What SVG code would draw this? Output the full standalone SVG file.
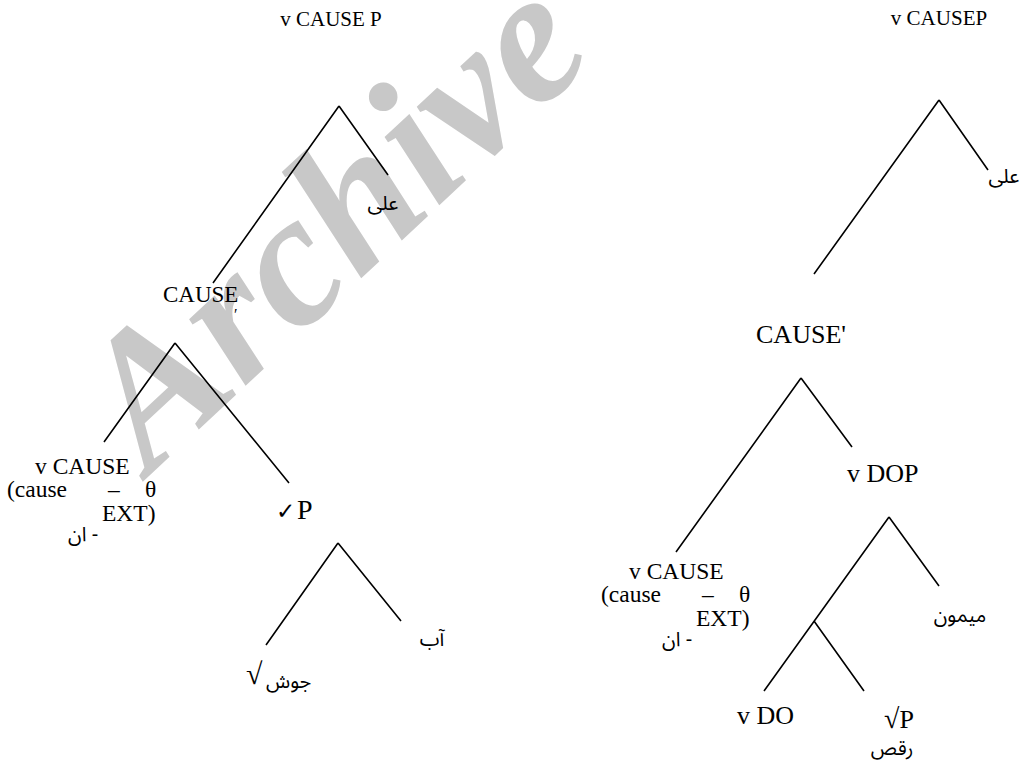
<svg xmlns="http://www.w3.org/2000/svg" width="1024" height="761" viewBox="0 0 1024 761">
<rect width="1024" height="761" fill="#fff"/>
<text fill="#c8c8c8" font-family="Liberation Serif" font-style="italic" font-weight="bold" font-size="190" transform="translate(150,475) rotate(-43)">Archive</text>
<g id="connectors" stroke="#000" stroke-width="1.6" fill="none">
<path d="M339,106 L388,175 M339,106 L213,283"/>
<path d="M175,343 L104,442 M175,343 L289,483"/>
<path d="M338,543 L266,645 M338,543 L401,621"/>
<path d="M939,100 L988,170 M939,100 L814,274"/>
<path d="M801,378 L852,447 M801,378 L676,552"/>
<path d="M889,517 L939,586 M889,517 L764,691 M814,621 L864,691"/>
</g>
<g font-family="Liberation Serif" fill="#000">
<g id="l-root"><text x="331" y="26" font-size="21" text-anchor="middle">v CAUSE P</text></g>
<g id="l-causebar"><text x="163" y="302" font-size="23">CAUSE</text><text x="234" y="320" font-size="16">′</text></g>
<g id="l-vcause">
<text x="35" y="474" font-size="23.5">v CAUSE</text>
<text x="7" y="497" font-size="23.5">(cause</text>
<text x="108" y="497" font-size="23.5">–</text>
<text x="145" y="497" font-size="23.5">θ</text>
<text x="102" y="521" font-size="23.5">EXT)</text>
</g>
<g id="l-rootp"><text x="276" y="519" font-size="28"><tspan font-family="DejaVu Sans" font-size="23">✓</tspan><tspan x="297">P</tspan></text></g>
<g id="l-sqrt"><text x="246" y="684" font-size="30">√</text></g>
<g id="r-root"><text x="939" y="25" font-size="21" text-anchor="middle">v CAUSEP</text></g>
<g id="r-causebar"><text x="801" y="343" font-size="26" text-anchor="middle">CAUSE'</text></g>
<g id="r-vdop"><text x="847" y="482" font-size="26">v DOP</text></g>
<g id="r-vcause">
<text x="629" y="579" font-size="23.5">v CAUSE</text>
<text x="601" y="602" font-size="23.5">(cause</text>
<text x="702" y="602" font-size="23.5">–</text>
<text x="739" y="602" font-size="23.5">θ</text>
<text x="696" y="626" font-size="23.5">EXT)</text>
</g>
<g id="r-vdo"><text x="737" y="724" font-size="26">v DO</text></g>
<g id="r-rootp"><text x="884" y="728" font-size="26"><tspan font-size="28">√</tspan>P</text></g>
</g>
<g font-family="Noto Sans Arabic" font-size="20" fill="#000">
<g id="l-ali"><text x="383" y="210" text-anchor="middle">علی</text></g>
<g id="l-an"><text x="68" y="541">ان -</text></g>
<g id="l-ab"><text x="432" y="646" text-anchor="middle">آب</text></g>
<g id="l-jush"><text x="266" y="688">جوش</text></g>
<g id="r-ali"><text x="1004" y="183" text-anchor="middle">علی</text></g>
<g id="r-meymun"><text x="960" y="622" text-anchor="middle">میمون</text></g>
<g id="r-an"><text x="662" y="646">ان -</text></g>
<g id="r-raqs"><text x="892" y="755" text-anchor="middle">رقص</text></g>
</g>
</svg>
